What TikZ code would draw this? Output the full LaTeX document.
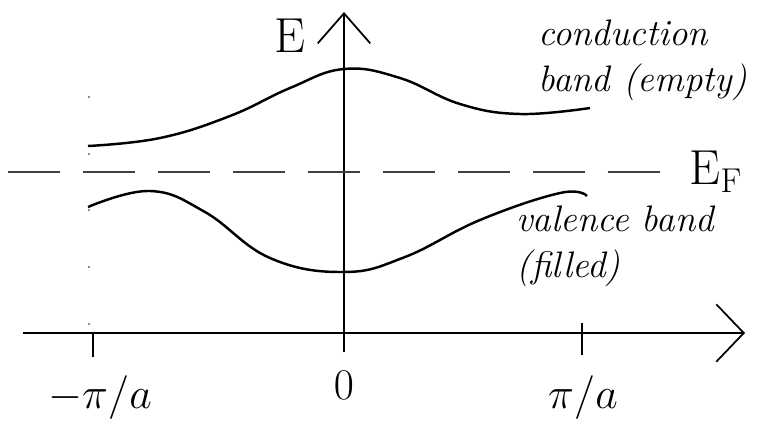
\documentclass[tikz,border=0pt]{standalone}
\usepackage{amsmath,amssymb}
\usepackage{xcolor}
\usepackage{tikz}
\usetikzlibrary{positioning,arrows.meta}

\begin{document}
\begin{tikzpicture}[
            x=0.02cm, y=-0.02cm, % one unit = one pixel of the sketch
            axis/.style={line width=1pt, draw=black},
            band/.style={line width=1.4pt, draw=black, smooth, tension=0.7},
            fermi/.style={line width=1pt, draw=black!75, dash pattern=on 1.05cm off 0.45cm},
            guide/.style={line width=0.6pt, draw=black!45, dash pattern=on 1pt off 1.1cm},
            tick/.style={line width=1pt, draw=black},
            lbl/.style={inner sep=0pt, font=\fontsize{21}{26}\selectfont\itshape, align=left, anchor=west},
            big/.style={inner sep=0pt, font=\fontsize{28}{30}\selectfont},
            klbl/.style={inner sep=0pt, font=\fontsize{24}{26}\selectfont}
        ]
        \useasboundingbox (0,0) rectangle (758,427);
        
        % Axes
        \coordinate (xstart) at (23,333);
        \coordinate (xend) at (745,333);
        \coordinate (ystart) at (344,352);
        \coordinate (yend) at (344,12);
        \draw[axis, -{Straight Barb[length=0.55cm, width=1.15cm, line width=1pt]}] (xstart) -- (xend);
        \draw[axis, -{Straight Barb[length=0.6cm, width=1.05cm, line width=1pt]}] (ystart) -- (yend);
        
        % Ticks on the k axis
        \coordinate (tl) at (93,333);
        \coordinate (tlb) at (93,357);
        \coordinate (tr) at (582,323);
        \coordinate (trb) at (582,355);
        \draw[tick] (tl) -- (tlb);
        \draw[tick] (tr) -- (trb);
        
        % Zone edge guide
        \coordinate (gtop) at (89,96);
        \coordinate (gbot) at (89,330);
        \draw[guide] (gtop) -- (gbot);
        
        % Fermi level
        \coordinate (fstart) at (8,172);
        \coordinate (fend) at (662,172);
        \draw[fermi] (fstart) -- (fend);
        
        % Conduction band
        \draw[band] plot coordinates {(88,146) (160,138) (230,116) (290,88) (344,69)
            (400,78) (460,104) (520,114) (590,108)};
        
        % Valence band
        \draw[band] plot coordinates {(88,207) (150,191) (205,212) (270,258) (344,272)
            (405,257) (480,220) (560,193) (587,196)};
        
        % Labels
        \node[big] (elabel) at (290,36) {E};
        \node[big] (eflabel) at (716,172) {E$_{\text{F}}$};
        \node[lbl] (cband) at (538,60) {conduction\\band (empty)};
        \node[lbl] (vband) at (516,246) {valence band\\(filled)};
        \node[big] (kzero) at (344,385) {$0$};
        \node[klbl] (kleft) at (100,398) {$-\pi/a$};
        \node[klbl] (kright) at (583,398) {$\pi/a$};
        
\end{tikzpicture}
\end{document}
